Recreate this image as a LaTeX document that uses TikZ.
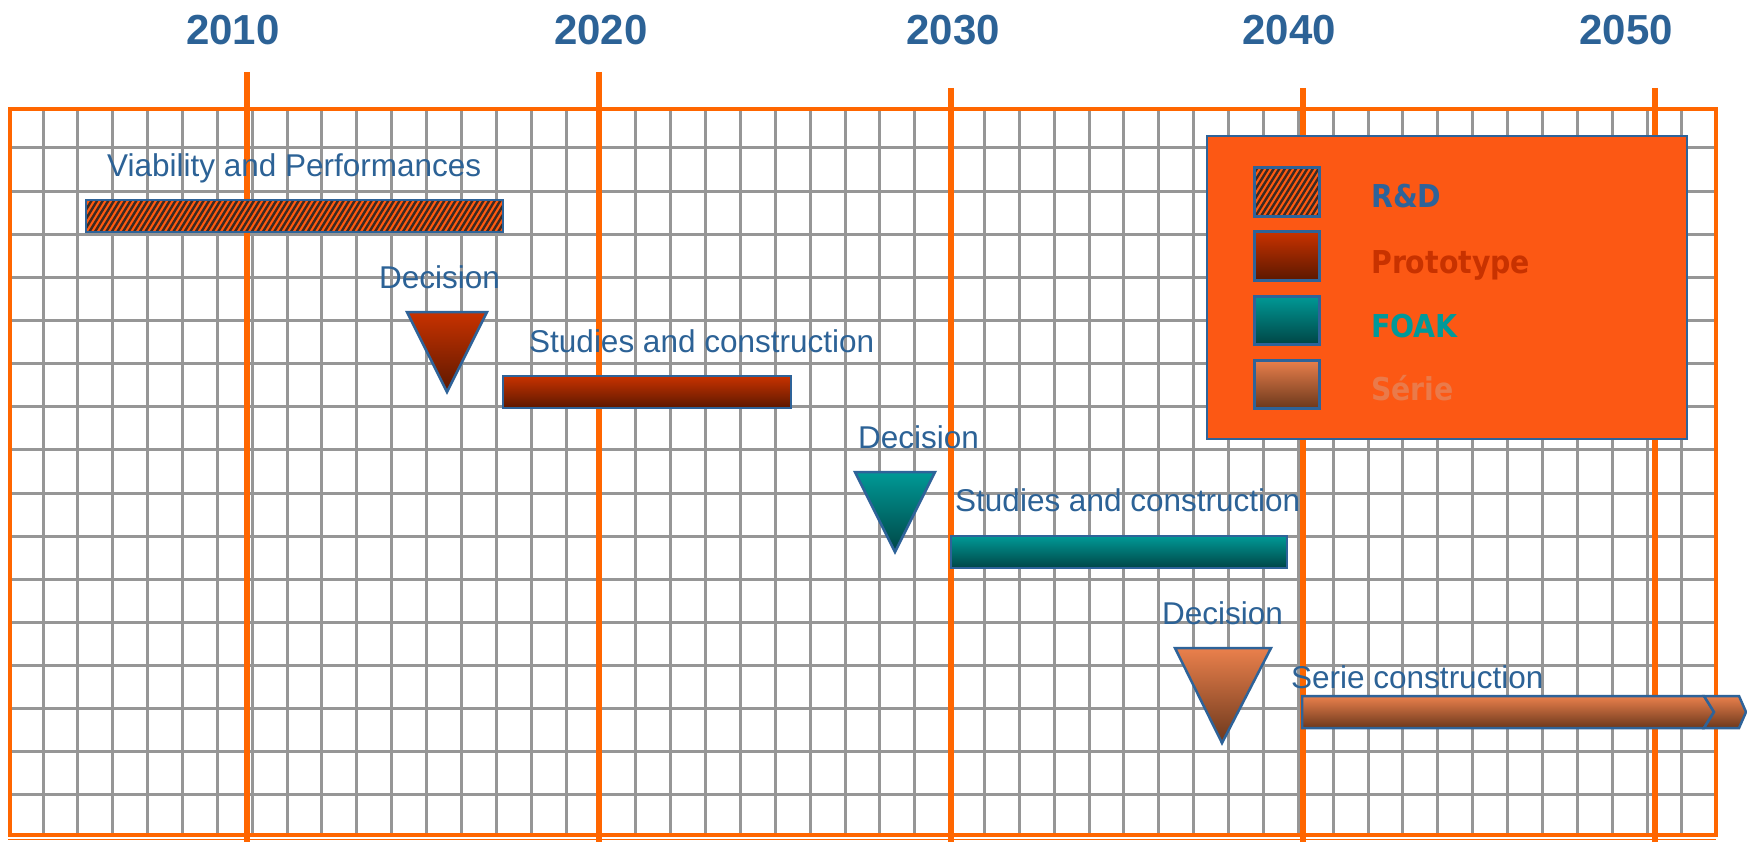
\documentclass[tikz,border=0pt]{standalone}
\usepackage{fontspec}
\setmainfont{Liberation Sans}
\newfontfamily\legfont[FakeStretch=0.9]{DejaVu Sans}
\definecolor{frameor}{RGB}{255,102,0}
\definecolor{gridgray}{RGB}{150,150,150}
\definecolor{txtblue}{RGB}{44,98,150}
\definecolor{edgeblue}{RGB}{46,99,153}
\definecolor{legfill}{RGB}{252,88,20}
\definecolor{protoTop}{RGB}{200,50,0}
\definecolor{protoBot}{RGB}{92,24,0}
\definecolor{foakTop}{RGB}{0,153,150}
\definecolor{foakBot}{RGB}{0,70,70}
\definecolor{serieTop}{RGB}{234,128,76}
\definecolor{serieBot}{RGB}{108,56,28}
\definecolor{hatchOr}{RGB}{255,90,16}
\definecolor{hatchDark}{RGB}{60,42,34}
\definecolor{serieTxt}{RGB}{234,122,74}
\definecolor{foakTxt}{RGB}{0,153,153}
\begin{document}
\begin{tikzpicture}[x=1pt,y=-1pt,
  lbl/.style={inner sep=0pt, anchor=base west, text=txtblue, font=\fontsize{31.5}{36}\selectfont},
  yearlbl/.style={inner sep=0pt, anchor=base, text=txtblue, font=\bfseries\fontsize{42}{48}\selectfont},
  leglbl/.style={inner sep=0pt, anchor=base west, font=\legfont\bfseries\fontsize{31.5}{36}\selectfont},
  gridline/.style={draw=gridgray, line width=3pt},
  yearline/.style={draw=frameor, line width=6.5pt},
  barborder/.style={draw=edgeblue, line width=2.5pt},
  protofill/.style={barborder, top color=protoTop, bottom color=protoBot},
  foakfill/.style={barborder, top color=foakTop, bottom color=foakBot},
  seriefill/.style={barborder, top color=serieTop, bottom color=serieBot},
  hatchline/.style={draw=hatchDark, line width=2.4pt}
]
\useasboundingbox (0,0) rectangle (1747,842);
\fill[white] (0,0) rectangle (1747,842);
% grid
\foreach \k in {0,...,47} \draw[gridline] ({43+34.87*\k},109) -- ({43+34.87*\k},835);
\foreach \j in {0,...,15} \draw[gridline] (10,{148+43.13*\j}) -- (1716,{148+43.13*\j});
% frame
\draw[frameor, line width=4.5pt] (10,109) rectangle (1716,835);
\draw[frameor, line width=1pt] (8,839.5) -- (1716,839.5);
% decade lines
\draw[yearline] (247,72) -- (247,842);
\draw[yearline] (599,72) -- (599,842);
\draw[yearline] (951,88) -- (951,842);
\draw[yearline] (1303,88) -- (1303,842);
\draw[yearline] (1655,88) -- (1655,842);
% year labels
\node[yearlbl] (y2010) at (233,45) {2010};
\node[yearlbl] (y2020) at (601,45) {2020};
\node[yearlbl] (y2030) at (953,45) {2030};
\node[yearlbl] (y2040) at (1289,45) {2040};
\node[yearlbl] (y2050) at (1626,45) {2050};
% R&D bar (hatched)
\begin{scope}
  \clip (86,200) rectangle (503,232);
  \fill[hatchOr] (86,200) rectangle (503,232);
  \foreach \i in {0,...,80} \draw[hatchline] ({60+5.6*\i},234) -- ({60+5.6*\i+22},198);
\end{scope}
\draw[barborder] (86,200) rectangle (503,232);
\node[lbl] (viab) at (107,177) {Viability and Performances};
% prototype
\node[lbl] (dec1) at (379,288) {Decision};
\path[protofill] (407,312) -- (487,312) -- (447,392) -- cycle;
\node[lbl] (stud1) at (529,352) {Studies and construction};
\path[protofill] (503,376) rectangle (791,408);
% FOAK
\node[lbl] (dec2) at (858,448) {Decision};
\path[foakfill] (855,472) -- (935,472) -- (895,552) -- cycle;
\node[lbl] (stud2) at (955,511) {Studies and construction};
\path[foakfill] (951,536) rectangle (1287,568);
% Serie
\node[lbl] (dec3) at (1162,624) {Decision};
\path[seriefill] (1175,648) -- (1271,648) -- (1222,743) -- cycle;
\node[lbl] (serie) at (1291,688) {Serie construction};
\path[seriefill] (1302,696) -- (1704,696) -- (1714,712) -- (1704,728) -- (1302,728) -- cycle;
\path[seriefill] (1704,696) -- (1739,696) -- (1746,712) -- (1739,728) -- (1704,728) -- (1714,712) -- cycle;
% legend
\draw[edgeblue, line width=2.5pt, fill=legfill] (1207,136) rectangle (1687,439);
\begin{scope}
  \clip (1254,168) rectangle (1319,217);
  \fill[hatchOr] (1254,168) rectangle (1319,217);
  \foreach \i in {0,...,20} \draw[hatchline] ({1220+5.6*\i},219) -- ({1220+5.6*\i+33},166);
\end{scope}
\draw[barborder, line width=3pt] (1254,168) rectangle (1319,217);
\path[protofill, line width=3pt] (1254,232) rectangle (1319,280);
\path[foakfill, line width=3pt] (1254,296) rectangle (1319,344);
\path[seriefill, line width=3pt] (1254,360) rectangle (1319,408);
\node[leglbl, text=edgeblue] (lrd) at (1371,208) {R\&D};
\node[leglbl, text=protoTop] (lproto) at (1371,273) {Prototype};
\node[leglbl, text=foakTxt] (lfoak) at (1371,337) {FOAK};
\node[leglbl, text=serieTxt] (lserie) at (1371,400) {Série};
\end{tikzpicture}
\end{document}
